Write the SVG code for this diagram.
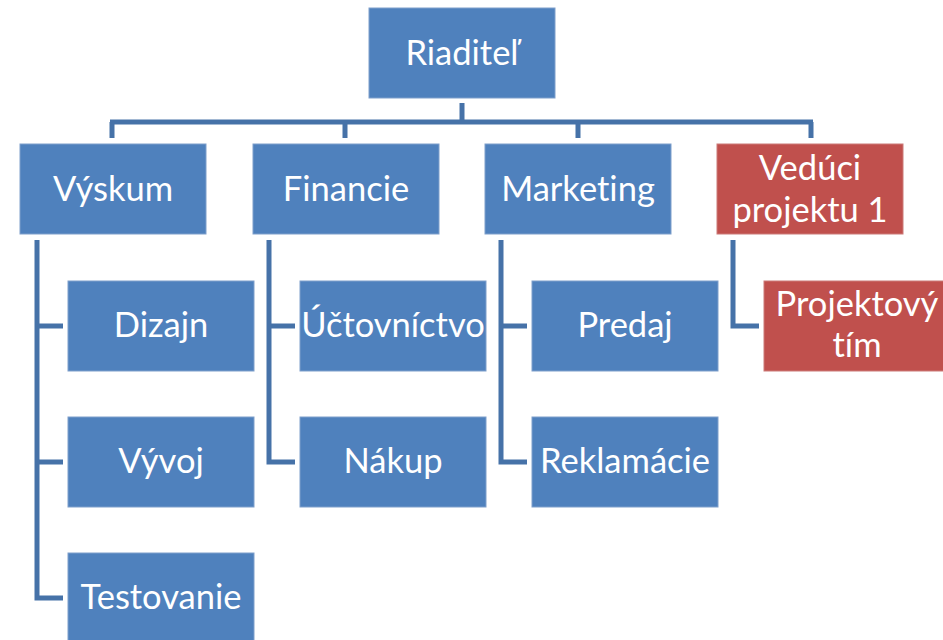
<svg xmlns="http://www.w3.org/2000/svg" width="943" height="640" viewBox="0 0 943 640">
  <style>
    .box { fill: #4F81BD; stroke: #7F9FCB; stroke-width: 1; }
    .red { fill: #C0504D; stroke: #CC7A78; stroke-width: 1; }
    .lbl { font-family: Lato, "Liberation Sans", sans-serif; font-size: 34.5px; fill: #FFFFFF; text-anchor: middle; font-variant-ligatures: none; font-feature-settings: "liga" 0; }
    .wire { fill: none; stroke: #4672A8; stroke-width: 5; stroke-linejoin: miter; stroke-linecap: butt; }
  </style>
  <rect width="943" height="640" fill="#FFFFFF"/>

  <!-- connectors -->
  <g id="connectors">
    <path class="wire" d="M462,103 V122 M110,122 H813 M112,122 V138 M345,122 V138 M578,122 V138 M811,122 V138"/>
    <path class="wire" d="M37,240 V598 H63 M37,326 H63 M37,462 H63"/>
    <path class="wire" d="M269,240 V462 H295 M269,326 H295"/>
    <path class="wire" d="M501,240 V462 H527 M501,326 H527"/>
    <path class="wire" d="M733,240 V326 H759"/>
  </g>

  <!-- top level -->
  <g id="riaditel">
    <rect class="box" x="369" y="8" width="186" height="90"/>
    <text class="lbl" x="462" y="65">Riaditeľ</text>
  </g>

  <!-- second level -->
  <g id="vyskum">
    <rect class="box" x="20" y="144" width="186" height="90"/>
    <text class="lbl" x="113" y="201">Výskum</text>
  </g>
  <g id="financie">
    <rect class="box" x="253" y="144" width="186" height="90"/>
    <text class="lbl" x="346" y="201">Financie</text>
  </g>
  <g id="marketing">
    <rect class="box" x="485" y="144" width="186" height="90"/>
    <text class="lbl" x="578" y="201">Marketing</text>
  </g>
  <g id="veduci">
    <rect class="red" x="717" y="144" width="186" height="90"/>
    <text class="lbl" x="810" y="180">Vedúci</text>
    <text class="lbl" x="810" y="222">projektu 1</text>
  </g>

  <!-- third level -->
  <g id="dizajn">
    <rect class="box" x="68" y="281" width="186" height="90"/>
    <text class="lbl" x="161" y="337">Dizajn</text>
  </g>
  <g id="vyvoj">
    <rect class="box" x="68" y="417" width="186" height="90"/>
    <text class="lbl" x="161" y="473">Vývoj</text>
  </g>
  <g id="testovanie">
    <rect class="box" x="68" y="553" width="186" height="90"/>
    <text class="lbl" x="161" y="609">Testovanie</text>
  </g>
  <g id="uctovnictvo">
    <rect class="box" x="300" y="281" width="186" height="90"/>
    <text class="lbl" x="393" y="337">Účtovníctvo</text>
  </g>
  <g id="nakup">
    <rect class="box" x="300" y="417" width="186" height="90"/>
    <text class="lbl" x="393" y="473">Nákup</text>
  </g>
  <g id="predaj">
    <rect class="box" x="532" y="281" width="186" height="90"/>
    <text class="lbl" x="625" y="337">Predaj</text>
  </g>
  <g id="reklamacie">
    <rect class="box" x="532" y="417" width="186" height="90"/>
    <text class="lbl" x="625" y="473">Reklamácie</text>
  </g>
  <g id="projektovy-tim">
    <rect class="red" x="764" y="281" width="186" height="90"/>
    <text class="lbl" x="857" y="316">Projektový</text>
    <text class="lbl" x="857" y="357">tím</text>
  </g>
</svg>
